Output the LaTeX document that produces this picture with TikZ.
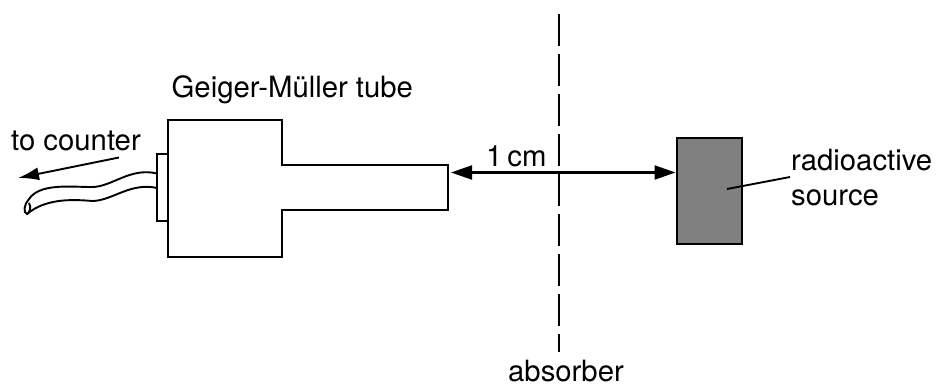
\documentclass[tikz,border=0pt]{standalone}
\usepackage{fontspec}
\setmainfont{TeX Gyre Heros}
\usetikzlibrary{arrows.meta}
\tikzset{
  x=1pt,y=-1pt,
  outline/.style={draw=black,line width=2.1pt,line join=miter,outer sep=0pt},
  thinline/.style={draw=black,line width=1.9pt},
  dim/.style={draw=black,line width=2.1pt,{Triangle[length=21pt,width=14pt]}-{Triangle[length=21pt,width=14pt]},shorten <=0pt,shorten >=0pt},
  lab/.style={inner sep=0pt,font=\fontsize{29.3pt}{35pt}\selectfont,text=black},
  absorberline/.style={draw=black,line width=2.2pt,dash pattern=on 32pt off 8pt},
}
\begin{document}
\begin{tikzpicture}
\useasboundingbox (0,0) rectangle (936,385);
% cable
\coordinate (cabA) at (157,173.5);
\coordinate (cabB) at (157,188);
\draw[thinline] (cabA) .. controls (130,167) and (112,187) .. (92,187)
  .. controls (70,187) and (40,183) .. (29,199)
  .. controls (24,204) and (23,213) .. (27,214)
  .. controls (29,214) and (32,207) .. (29,203);
\draw[thinline] (cabB) .. controls (130,182) and (112,201) .. (92,201)
  .. controls (70,199) and (45,199) .. (27,214);
% tube
\node[outline,fill=white,minimum width=11pt,minimum height=67pt,inner sep=0pt,anchor=north west] (flange) at (157,154) {};
\draw[outline,fill=white] (168,120) -- (282,120) -- (282,165) -- (448,165) -- (448,210) -- (282,210) -- (282,257) -- (168,257) -- cycle;
\coordinate (neckend) at (451,172.5);
% source
\node[outline,fill=black!50,minimum width=65pt,minimum height=106pt,inner sep=0pt,anchor=north west] (source) at (677,138) {};
\coordinate (sourceface) at (675.5,172.5);
\coordinate (leadS) at (727,189);
\coordinate (leadE) at (790,177);
% absorber
\coordinate (absT) at (559,14);
\coordinate (absB) at (559,352);
\draw[absorberline] (absT) -- (absB);
% dimension
\draw[dim] (neckend) -- (sourceface);
\draw[thinline] (leadS) -- (leadE);
% counter arrow
\coordinate (ctrS) at (119,157.5);
\coordinate (ctrE) at (18,178);
\draw[line width=1.9pt,-{Latex[length=21pt,width=13pt]}] (ctrS) -- (ctrE);
% labels
\node[lab,anchor=base west] (tubelab) at (171.5,98) {Geiger-Müller tube};
\node[lab,anchor=base west] (ctrlab) at (11,150) {to counter};
\node[lab,anchor=base west] (cmlab) at (486,166) {1\,cm};
\node[lab,anchor=base west] (radlab) at (791,170) {radioactive};
\node[lab,anchor=base west] (srclab) at (791,205.5) {source};
\node[lab,anchor=base west] (abslab) at (508,381.5) {absorber};
\end{tikzpicture}
\end{document}
